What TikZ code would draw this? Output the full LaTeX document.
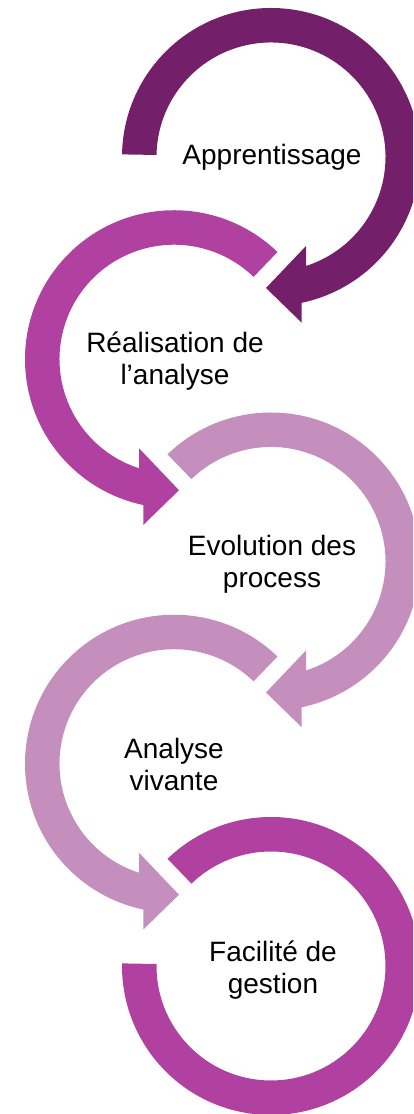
\documentclass[tikz,border=0pt]{standalone}
\usepackage{fontspec}
\setmainfont{Liberation Sans}
\definecolor{darkplum}{RGB}{116,31,106}
\definecolor{orchid}{RGB}{176,65,160}
\definecolor{mauve}{RGB}{196,143,188}

\begin{document}
\begin{tikzpicture}[x=1pt, y=1pt,
    stage/.style={align=center, font=\fontsize{28}{32}\selectfont},
    pics/ringarrow/.style={code={
      \fill[pic actions] (#1:149) arc[start angle=#1, end angle=-78.1, radius=149]
        -- (30.7,-165.7) -- (-5,-131) -- (35,-89) -- (35,-109)
        arc[start angle=-72.2, end angle=#1, radius=114.5] -- cycle;
    }}]

    \useasboundingbox (0,0) rectangle (413,1114);
    \clip (0,0) rectangle (413,1114);

    \coordinate (c1) at (271,957);
    \coordinate (c2) at (174,754.75);
    \coordinate (c3) at (271,552.5);
    \coordinate (c4) at (174,350.25);
    \coordinate (c5) at (271,148);

    \pic[fill=darkplum] at (c1) {ringarrow=179};
    \pic[fill=orchid, xscale=-1] at (c2) {ringarrow=134};
    \pic[fill=mauve] at (c3) {ringarrow=134};
    \pic[fill=mauve, xscale=-1] at (c4) {ringarrow=134};
    \begin{scope}[shift={(c5)}]
      \fill[orchid] (134:149) arc[start angle=134, end angle=-181, radius=149]
        -- (-181:114.5) arc[start angle=-181, end angle=134, radius=114.5] -- cycle;
    \end{scope}

    \node[stage] (t1) at ([xshift=1pt]c1) {Apprentissage};
    \node[stage] (t2) at ([xshift=1pt,yshift=-1.5pt]c2) {Réalisation de\\l’analyse};
    \node[stage] (t3) at ([xshift=1pt,yshift=-3pt]c3) {Evolution des\\process};
    \node[stage] (t4) at ([yshift=-1pt]c4) {Analyse\\vivante};
    \node[stage] (t5) at ([xshift=2pt,yshift=-4pt]c5) {Facilité de\\gestion};
\end{tikzpicture}
\end{document}
